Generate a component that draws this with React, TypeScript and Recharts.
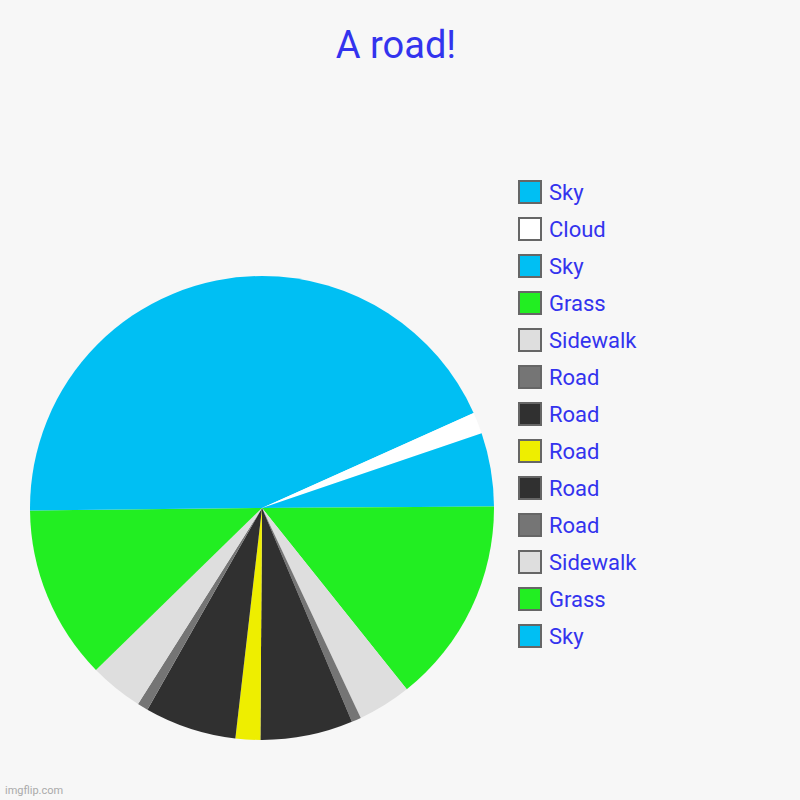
import React from 'react';
import { PieChart, Pie, Cell } from 'recharts';

const labels = ['Sky', 'Cloud', 'Sky', 'Grass', 'Sidewalk', 'Road', 'Road', 'Road', 'Road', 'Road', 'Sidewalk', 'Grass', 'Sky'];
const values = [65.8, 5.4, 18.4, 51.8, 13.4, 2.4, 23.2, 6.2, 23.0, 2.7, 13.4, 43.7, 90.6];
const colors = ['#00BFF3', '#FFFFFF', '#00BFF3', '#22EE22', '#DEDEDE', '#757575', '#303030', '#EEEE00', '#303030', '#757575', '#DEDEDE', '#22EE22', '#00BFF3'];

const data = labels.map((name, i) => ({ name, value: values[i], color: colors[i] }));

const TEXT_BLUE = '#3333EE';

export default function App() {
  return (
    <div style={{ position: 'absolute', left: 0, top: 0, width: 800, height: 800, background: '#F7F7F7', overflow: 'hidden' }}>
      <div
        style={{
          position: 'absolute',
          top: 22,
          left: 0,
          width: 792,
          textAlign: 'center',
          color: TEXT_BLUE,
          fontSize: 38,
          fontFamily: 'Roboto, sans-serif',
          lineHeight: '46px',
        }}
      >
        A road!
      </div>
      <div style={{ position: 'absolute', left: 0, top: 0 }}>
        <PieChart width={800} height={800} margin={{ top: 0, right: 0, bottom: 0, left: 0 }}>
          <Pie
            data={data}
            dataKey="value"
            nameKey="name"
            cx={262}
            cy={508}
            outerRadius={232}
            startAngle={90}
            endAngle={-270}
            stroke="none"
            isAnimationActive={false}
          >
            {data.map((d, i) => (
              <Cell key={i} fill={d.color} stroke="none" />
            ))}
          </Pie>
        </PieChart>
      </div>
      <div style={{ position: 'absolute', left: 518, top: 173.5, display: 'flex', flexDirection: 'column' }}>
        {data.map((entry, i) => (
          <div key={i} style={{ display: 'flex', alignItems: 'center', height: 37 }}>
            <div
              style={{
                width: 20,
                height: 20,
                border: '2px solid #666666',
                background: entry.color,
                marginRight: 7,
              }}
            />
            <span style={{ color: TEXT_BLUE, fontSize: 22, fontFamily: 'Roboto, sans-serif' }}>{entry.name}</span>
          </div>
        ))}
      </div>
      <div
        style={{
          position: 'absolute',
          left: 5,
          top: 784,
          fontSize: 11,
          color: '#AAAAAA',
          fontFamily: 'Roboto, sans-serif',
        }}
      >
        imgflip.com
      </div>
    </div>
  );
}
